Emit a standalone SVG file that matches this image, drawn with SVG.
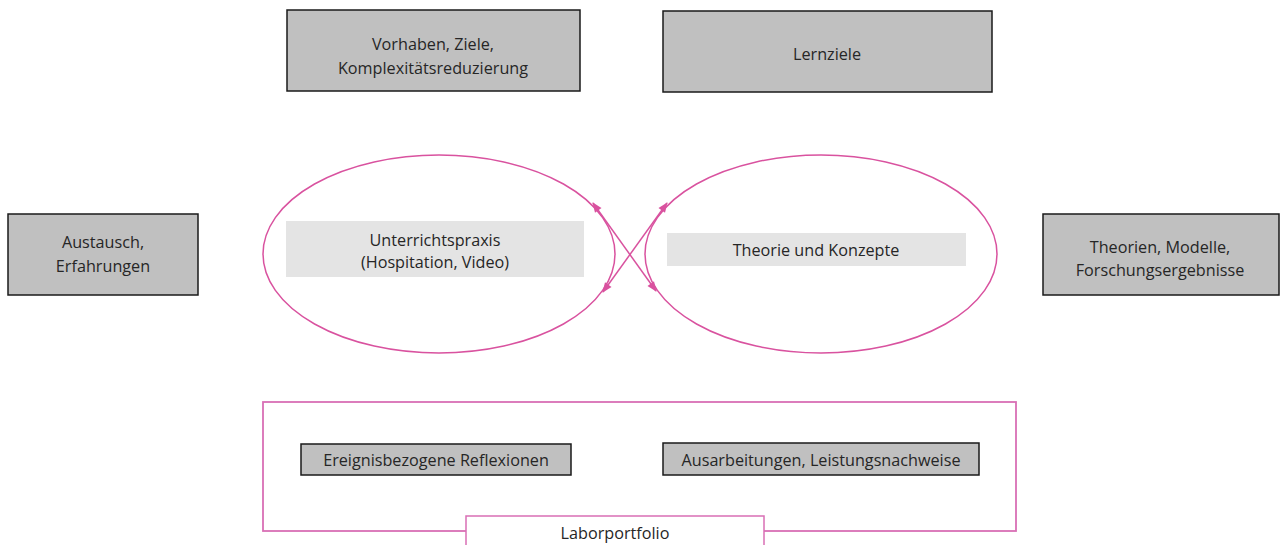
<svg xmlns="http://www.w3.org/2000/svg" width="1280" height="545" viewBox="0 0 1280 545">
  <style>
    text { font-family: "Open Sans", "Liberation Sans", sans-serif; font-size: 16.2px; fill: #262626; text-anchor: middle; }
    .box { fill: #c0c0c0; stroke: #1a1a1a; stroke-width: 1.5; }
    .inner { fill: #e4e4e4; stroke: none; }
    .loop { fill: none; stroke: #d9529f; stroke-width: 1.5; }
    .frame { fill: none; stroke: #d96fb5; stroke-width: 1.8; }
    .label { fill: #ffffff; stroke: #d96fb5; stroke-width: 1.5; }
    .conn { stroke: #d9529f; stroke-width: 1.5; fill: none; }
  </style>
  <defs>
    <marker id="arrow" viewBox="0 0 10 10" refX="9" refY="5" markerWidth="11" markerHeight="10" orient="auto-start-reverse" markerUnits="userSpaceOnUse">
      <path d="M0,1 L10,5 L0,9 Z" fill="#d9529f"/>
    </marker>
  </defs>

  <rect width="1280" height="545" fill="#ffffff"/>

  <g id="vorhaben">
    <rect class="box" x="287" y="10" width="293" height="81"/>
    <text x="433" y="50">Vorhaben, Ziele,</text>
    <text x="433" y="74">Komplexitätsreduzierung</text>
  </g>

  <g id="lernziele">
    <rect class="box" x="663" y="11" width="329" height="81"/>
    <text x="827" y="60">Lernziele</text>
  </g>

  <g id="austausch">
    <rect class="box" x="8" y="214" width="190" height="81"/>
    <text x="103" y="248">Austausch,</text>
    <text x="103" y="272">Erfahrungen</text>
  </g>

  <g id="theorien">
    <rect class="box" x="1043" y="214" width="236" height="81"/>
    <text x="1160" y="253">Theorien, Modelle,</text>
    <text x="1160" y="276">Forschungsergebnisse</text>
  </g>

  <g id="unterrichtspraxis">
    <ellipse class="loop" cx="439" cy="254" rx="176" ry="99"/>
    <rect class="inner" x="286" y="221" width="298" height="56"/>
    <text x="435" y="246">Unterrichtspraxis</text>
    <text x="435" y="268">(Hospitation, Video)</text>
  </g>

  <g id="theorie-konzepte">
    <ellipse class="loop" cx="821" cy="254" rx="176" ry="99"/>
    <rect class="inner" x="667" y="233" width="299" height="33"/>
    <text x="816" y="256">Theorie und Konzepte</text>
  </g>

  <g id="connectors">
    <line class="conn" x1="593" y1="203" x2="656" y2="291" marker-start="url(#arrow)" marker-end="url(#arrow)"/>
    <line class="conn" x1="667" y1="203" x2="603" y2="292" marker-start="url(#arrow)" marker-end="url(#arrow)"/>
  </g>

  <g id="laborportfolio">
    <rect class="frame" x="263" y="402" width="753" height="129"/>
    <g id="reflexionen">
      <rect class="box" x="301" y="444" width="270" height="31"/>
      <text x="436" y="466">Ereignisbezogene Reflexionen</text>
    </g>
    <g id="ausarbeitungen">
      <rect class="box" x="663" y="443" width="316" height="32"/>
      <text x="821" y="466">Ausarbeitungen, Leistungsnachweise</text>
    </g>
    <g id="portfolio-label">
      <rect class="label" x="466" y="516" width="298" height="34"/>
      <text x="615" y="539">Laborportfolio</text>
    </g>
  </g>
</svg>
